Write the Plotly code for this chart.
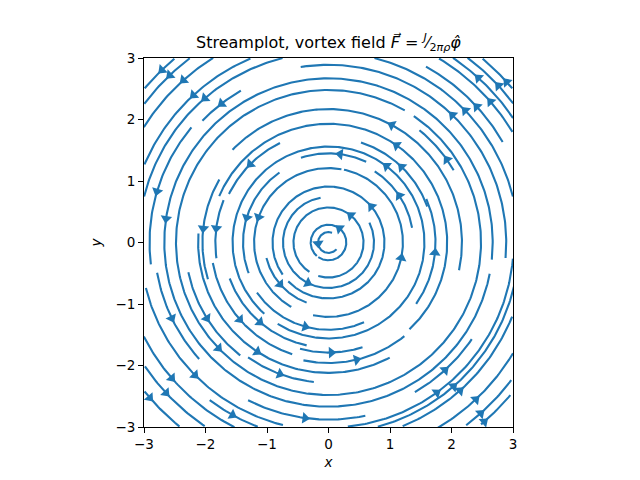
import numpy as np
import plotly.graph_objects as go

# Streamlines: radius, start angle, end angle (deg, counter-clockwise)
radius = [0.17, 0.29, 0.57, 0.74, 0.91, 1.04, 1.21, 1.21, 1.39, 1.42, 1.38, 1.45,
          1.56, 1.71, 1.71, 1.74, 1.79, 1.80, 1.84, 1.91, 1.93, 1.96, 2.05, 2.12,
          2.17, 2.28, 2.33, 2.35, 2.48, 2.67, 2.89, 2.85, 2.91, 2.83, 2.88, 2.81,
          3.09, 3.27, 3.49, 3.62, 3.76, 3.90,
          3.09, 3.25, 3.54, 3.75, 3.90,
          3.06, 3.21, 3.37, 3.60, 3.85,
          3.01, 3.10, 3.22, 3.50, 3.72, 3.86]
theta_start = [70, -125, 253, 100, -136, 194, 80, 258, 125, 215, 10, 65,
               -122, 20, 200, -35, 255, 116, 158, 190, -47, 258, 150, 176,
               -12, 235, 192, 30, 60, -6, -5, 120, 140, 190, 243, 300,
               14, 30, 31, 34, 37, 40,
               104, 113, 122, 127, 130,
               194, 233, 207, 214, 219,
               276, 285, 292, 300, 307, 310]
theta_end = [320, 229, 597, 386, 215, 250, 240, 438, 201, 294, 57, 108,
             228, 72, 258, 24, 288, 154, 188, 252, 157, 309, 197, 298,
             136, 264, 232, 51, 416, 349, 99, 136, 187, 222, 282, 326,
             76, 61, 59, 56, 53, 50,
             166, 157, 148, 143, 140,
             256, 249, 243, 236, 231,
             355, 347, 338, 329, 323, 320]
arrow_theta = [185, 52, 50.6, 243, 40, 220.8, 160, 348, 163, 254.6, 33.5, 82.5,
               52.8, 46, 229.3, 354.5, 271.5, 135, 172.8, 221, 55, 283.5, 173.6, 236.9,
               61.7, 249.7, 211.9, 35, 223.9, 171.6, 45.8, 127.6, 163.4, 205.8, 262.4, 312.4,
               44, 42.5, 41, 47.7, 42.7, 42,
               130.6, 132.5, 131.8, 133.5, 134,
               224.8, 240.9, 220.9, 222.8, 221,
               305.8, 311, 311.6, 313.2, 311.7, 311]

x_ticks = [-3, -2, -1, 0, 1, 2, 3]
tick_text = ["\u22123", "\u22122", "\u22121", "0", "1", "2", "3"]

color = "#1f77b4"
fig = go.Figure()

xs, ys = [], []
for r, a0, a1 in zip(radius, theta_start, theta_end):
    t = np.radians(np.linspace(a0, a1, max(8, int(abs(a1 - a0) * 1.5))))
    xs += list(r * np.cos(t)) + [None]
    ys += list(r * np.sin(t)) + [None]
fig.add_trace(go.Scatter(x=xs, y=ys, mode="lines", line=dict(color=color, width=2.1),
                         hoverinfo="skip", showlegend=False))

ar = np.array(radius)
at = np.radians(np.array(arrow_theta))
fig.add_trace(go.Scatter(
    x=ar * np.cos(at), y=ar * np.sin(at), mode="markers",
    marker=dict(symbol="triangle-up", size=10, color=color,
                angle=list(-np.array(arrow_theta)), line=dict(width=0)),
    hoverinfo="skip", showlegend=False, cliponaxis=True))

font = dict(family="DejaVu Sans", size=13.5, color="black")
axis_common = dict(range=[-3, 3], showgrid=False, zeroline=False, showline=True,
                   linecolor="black", linewidth=1, mirror=True, ticks="outside",
                   ticklen=5, tickwidth=1, tickcolor="black", automargin=False,
                   tickvals=x_ticks, ticktext=tick_text, tickfont=font)
fig.update_xaxes(**axis_common, title=dict(text="<i>x</i>", standoff=6, font=font))
fig.update_yaxes(**axis_common, title=dict(text="<i>y</i>", standoff=10, font=font))

# the page body adds an 8px margin, so the figure is drawn 8px smaller with shifted margins
fig.update_layout(
    width=624, height=464,
    margin=dict(l=136, r=119, t=50, b=45, autoexpand=False),
    plot_bgcolor="white", paper_bgcolor="white",
    title=dict(text="Streamplot, vortex field <i>F\u20d7</i> = <sup><i>J</i></sup>\u2044<sub>2<i>\u03c0\u03c1</i></sub><i>\u03c6\u0302</i>",
               x=320.5 / 624, xanchor="center", y=1 - 34 / 464, yanchor="middle",
               font=dict(family="DejaVu Sans", size=16, color="black")),
)
fig.write_html("out.html")
